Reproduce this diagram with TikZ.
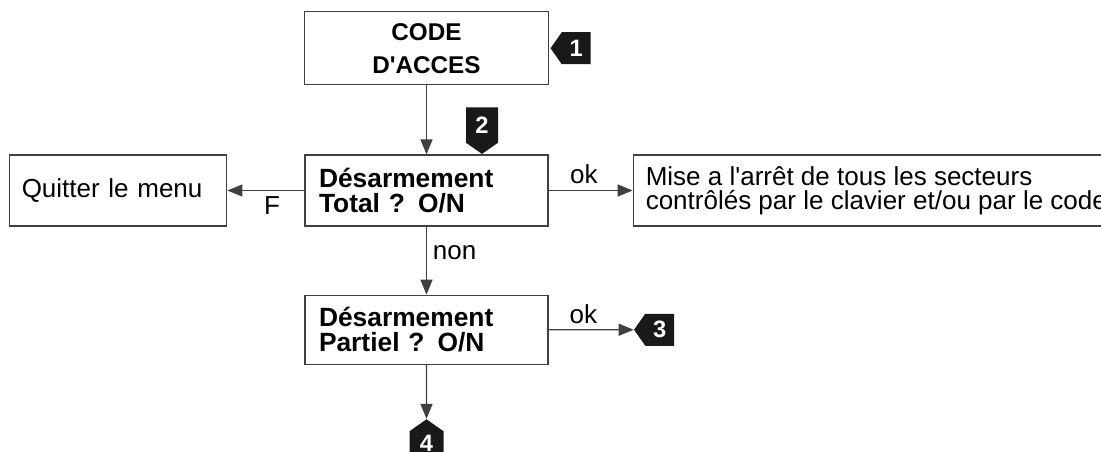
\documentclass[tikz,border=0pt]{standalone}
\usepackage{fontspec}
\setmainfont{Liberation Sans}
\usetikzlibrary{arrows.meta,positioning,calc,shapes.symbols}

\begin{document}
\begin{tikzpicture}[
  box/.style={draw=black!75, line width=0.25mm, minimum height=14.2mm, inner sep=0pt, fill=white},
  ask/.style={box, align=left, text width=43mm, inner xsep=2.8mm, font=\bfseries\fontsize{15}{14}\selectfont},
  plain/.style={box, align=left, inner xsep=2.5mm, font=\fontsize{14.8}{13.8}\selectfont},
  tag/.style={signal, signal pointer angle=110, fill=black!90, text=white, inner sep=0pt, font=\bfseries\fontsize{13.5}{14}\selectfont},
  arrow/.style={-{Triangle[length=3mm,width=2.4mm]}, line width=0.25mm, draw=black!75},
  lbl/.style={font=\fontsize{14.8}{16}\selectfont}
]
\useasboundingbox (0,0) rectangle (220.2mm,-90.4mm);

\node[ask] (total) at (85.3mm,-38.1mm) {Désarmement\\Total ? O/N};
\node[box, above=13.8mm of total, minimum width=48.8mm, minimum height=14.6mm, align=center,
  font=\bfseries\fontsize{13.8}{18.8}\selectfont] (code) {CODE\\D\textquotesingle ACCES};
\node[ask, below=13.6mm of total, minimum height=13.8mm] (partiel) {Désarmement\\Partiel ? O/N};
\node[plain, left=15.4mm of total, text width=38.6mm, inner xsep=2.4mm] (quit) {Quitter le menu};
\node[plain, right=16.8mm of total] (mise)
  {Mise a l\textquotesingle arrêt de tous les secteurs\\contrôlés par le clavier et/ou par le code};

% reperes numerotes
\node[tag, signal to=west, minimum width=8mm, minimum height=6.4mm, right=0.2mm of code] (t1) {1};
\node[tag, signal to=south, minimum width=6.4mm, minimum height=8mm, anchor=south] (t2)
  at ($(total.north)+(11.1mm,0)$) {2};
\node[tag, signal to=west, minimum width=8mm, minimum height=6.4mm, right=17mm of partiel] (t3) {3};
\node[tag, signal to=north, minimum width=6.8mm, minimum height=5.6mm, below=10.8mm of partiel] (t4) {4};

\draw[arrow] (code) -- (total);
\draw[arrow] (total) -- node[lbl, below, pos=0.42] (lf) {F} (quit);
\draw[arrow] (total) -- node[lbl, above, pos=0.42] (lok1) {ok} (mise);
\draw[arrow] (total) -- node[lbl, right, pos=0.38] (lnon) {non} (partiel);
\draw[arrow] (partiel) -- node[lbl, above, pos=0.41] (lok2) {ok} (t3);
\draw[arrow] (partiel) -- (t4);

\end{tikzpicture}
\end{document}
